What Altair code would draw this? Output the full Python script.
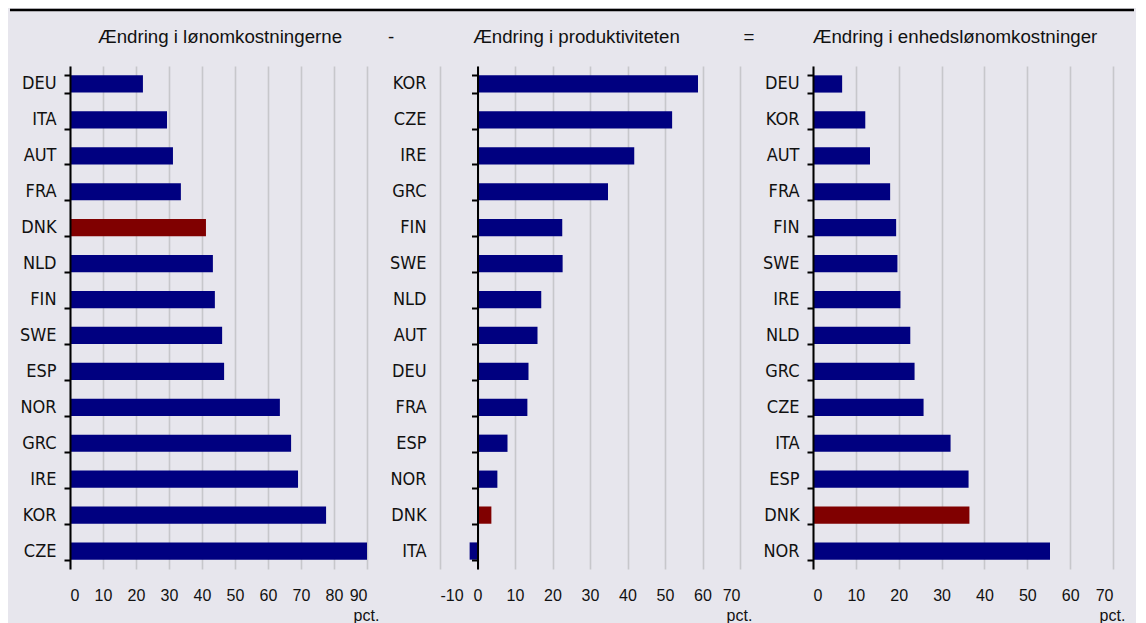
import altair as alt
import pandas as pd

# Panel 1: Ændring i lønomkostningerne
c1 = ["DEU", "ITA", "AUT", "FRA", "DNK", "NLD", "FIN", "SWE", "ESP", "NOR", "GRC", "IRE", "KOR", "CZE"]
v1 = [22.1, 29.4, 31.2, 33.6, 41.2, 43.3, 43.9, 46.1, 46.7, 63.6, 67.0, 69.1, 77.6, 90.0]
# Panel 2: Ændring i produktiviteten
c2 = ["KOR", "CZE", "IRE", "GRC", "FIN", "SWE", "NLD", "AUT", "DEU", "FRA", "ESP", "NOR", "DNK", "ITA"]
v2 = [58.8, 51.9, 41.8, 34.8, 22.6, 22.7, 17.0, 16.0, 13.6, 13.3, 8.0, 5.3, 3.7, -2.1]
# Panel 3: Ændring i enhedslønomkostninger
c3 = ["DEU", "KOR", "AUT", "FRA", "FIN", "SWE", "IRE", "NLD", "GRC", "CZE", "ITA", "ESP", "DNK", "NOR"]
v3 = [6.8, 12.2, 13.3, 18.0, 19.4, 19.7, 20.4, 22.7, 23.7, 25.8, 32.1, 36.3, 36.5, 55.3]

titles = ["Ændring i lønomkostningerne", "Ændring i produktiviteten", "Ændring i enhedslønomkostninger"]
operators = ["", "-", "="]
domains = [[0, 90], [-10, 70], [0, 70]]
x_unit = "pct."

NAVY = "#000080"
RED = "#800000"
TXT = "#111111"
LABEL_FONT = "DejaVu Sans Condensed, Liberation Sans, Arial, sans-serif"
MAIN_FONT = "Liberation Sans, Arial, sans-serif"
H = 503


def panel(cats, vals, title, dom, width, title_x, op, op_x, zero_off, with_rule=False):
    df = pd.DataFrame({"land": cats, "v": vals})
    ticks = list(range(dom[0], dom[1] + 1, 10))
    yaxis_kwargs = dict(
        title=None,
        domainColor="black", domainWidth=2,
        tickColor="black", tickWidth=2, tickSize=6, tickBand="extent",
        labelPadding=8 + zero_off, labelFont=LABEL_FONT, labelFontSize=18,
        labelColor=TXT, grid=False, zindex=1,
    )
    if zero_off:
        yaxis_kwargs["offset"] = -zero_off

    bars = alt.Chart(df).mark_bar().encode(
        x=alt.X(
            "v:Q",
            scale=alt.Scale(domain=dom, nice=False, zero=False),
            axis=alt.Axis(
                values=ticks, grid=True, gridColor="#c7c7cb", gridWidth=1.6,
                domain=False, ticks=False, labelPadding=18,
                labelExpr="'' + datum.value",
                labelFont=MAIN_FONT, labelFontSize=16, labelColor=TXT,
                title=x_unit, titleX=width - 1, titleY=51,
                titleAlign="center", titleBaseline="alphabetic",
                titleFont=MAIN_FONT, titleFontSize=16, titleFontWeight="normal",
                titleColor=TXT,
            ),
        ),
        y=alt.Y(
            "land:N", sort=cats,
            scale=alt.Scale(paddingInner=0.52, paddingOuter=0.26),
            axis=alt.Axis(**yaxis_kwargs),
        ),
        color=alt.condition(alt.datum.land == "DNK", alt.value(RED), alt.value(NAVY)),
    )
    head = alt.Chart(pd.DataFrame({"t": [title]})).mark_text(
        font=MAIN_FONT, fontSize=18.7, color=TXT, align="center", baseline="alphabetic"
    ).encode(text="t:N", x=alt.value(title_x), y=alt.value(-23.3))
    layers = [bars, head]
    if op:
        sym = alt.Chart(pd.DataFrame({"o": [op]})).mark_text(
            font=MAIN_FONT, fontSize=18.7, color=TXT, align="center", baseline="middle"
        ).encode(text="o:N", x=alt.value(op_x), y=alt.value(-29))
        layers.append(sym)
    if with_rule:
        rule = alt.Chart(pd.DataFrame({"r": [0]})).mark_rule(
            color="black", strokeWidth=2.5
        ).encode(x=alt.value(-60), x2=alt.value(1064), y=alt.value(-56))
        layers.append(rule)
    return alt.layer(*layers).properties(width=width, height=H)


p1 = panel(c1, v1, titles[0], domains[0], 297, 150, operators[0], 0, 0, with_rule=True)
p2 = panel(c2, v2, titles[1], domains[1], 300, 136.5, operators[1], -49, 37.5)
p3 = panel(c3, v3, titles[2], domains[2], 300, 142, operators[2], -64, 0)

chart = alt.hconcat(p1, p2, p3, spacing=73, bounds="flush").properties(
    padding=0
).configure(background="#e7e6ed").configure_view(strokeWidth=0)

chart.save("out.html", embed_options={"renderer": "svg", "actions": False})
